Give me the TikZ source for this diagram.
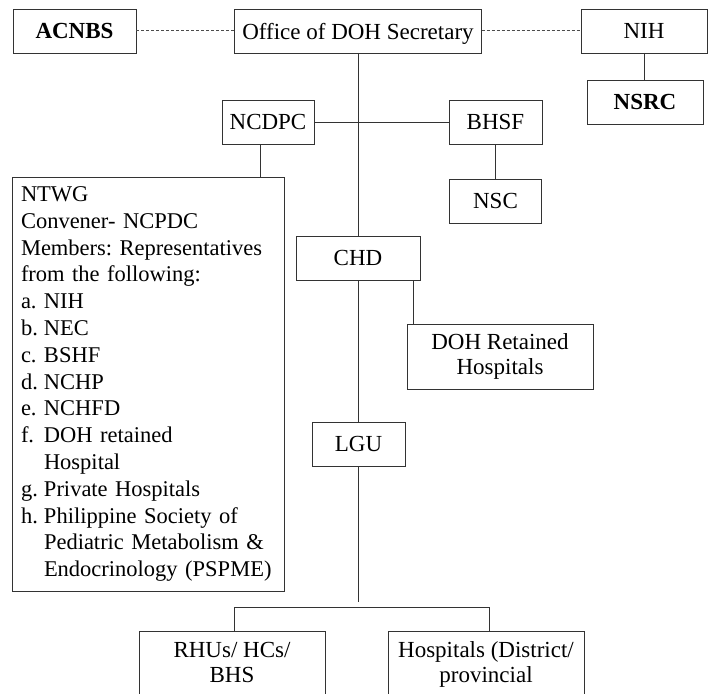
\documentclass[tikz,border=0pt]{standalone}
\usepackage{fontspec}
\setmainfont{Liberation Serif}
\frenchspacing
\newcommand\fsz{\fontsize{23}{25}\selectfont}
\newcommand\lbl[1]{\makebox[23pt][l]{#1}}
\begin{document}
\begin{tikzpicture}[x=1pt,y=-1pt,
  box/.style={draw=black!80, line width=0.9pt, inner sep=0pt, outer sep=0pt,
    align=center, font=\fsz},
  single/.style={text depth=0pt},
  link/.style={draw=black!80, line width=0.9pt},
  dotlink/.style={draw=black!70, line width=1pt, dash pattern=on 3pt off 2pt}]
\useasboundingbox (0,0) rectangle (711,693);
\clip (0,0) rectangle (711,693);
% top row
\node[box, single, minimum width=123pt, minimum height=44pt] (acnbs) at (74.5,31) {\textbf{ACNBS}};
\node[box, single, minimum width=247pt, minimum height=44pt] (office) at (358,31) {Office of DOH Secretary};
\node[box, single, minimum width=126pt, minimum height=44pt] (nih) at (644,31) {NIH};
\node[box, single, minimum width=116pt, minimum height=44pt] (nsrc) at (645,102) {\textbf{NSRC}};
% second level
\node[box, single, minimum width=92pt, minimum height=44pt] (ncdpc) at (268,122) {NCDPC};
\node[box, single, minimum width=93pt, minimum height=44pt] (bhsf) at (495.5,122) {BHSF};
\node[box, single, minimum width=92pt, minimum height=44pt] (nsc) at (495.5,201) {NSC};
% NTWG
\node[box, anchor=north west, minimum width=270pt, minimum height=414pt,
      text width=254pt, align=left, inner xsep=9pt,
      font=\fontsize{22.5}{26.8}\selectfont] (ntwg) at (12,177) {%
NTWG\\
Convener- NCPDC\\
Members: Representatives\\
from the following:\\
\lbl{a.}NIH\\
\lbl{b.}NEC\\
\lbl{c.}BSHF\\
\lbl{d.}NCHP\\
\lbl{e.}NCHFD\\
\lbl{f.}DOH retained\\
\lbl{}Hospital\\
\lbl{g.}Private Hospitals\\
\lbl{h.}Philippine Society of\\
\lbl{}Pediatric Metabolism \&\\
\lbl{}Endocrinology (PSPME)};
% middle column
\node[box, single, minimum width=124pt, minimum height=44pt] (chd) at (358,258) {CHD};
\node[box, minimum width=186pt, minimum height=65pt] (doh) at (500,356.5) {DOH Retained\\Hospitals};
\node[box, single, minimum width=93pt, minimum height=44pt] (lgu) at (358.5,444) {LGU};
% bottom (boxes run past the lower edge of the picture)
\node[box, anchor=north, minimum width=186pt, minimum height=87pt] (rhu) at (232,631) {RHUs/ HCs/\\BHS\\ \mbox{}};
\node[box, anchor=north, minimum width=196pt, minimum height=87pt] (hosp) at (486,631) {Hospitals (District/\\provincial\\ \mbox{}};
\coordinate (lguend) at (358,602);
% connectors
\draw[dotlink] (acnbs.east) -- (office.west);
\draw[dotlink] (office.east) -- (nih.west);
\draw[link] (nih.south) -- (nih.south |- nsrc.north);
\draw[link] (office.south) -- (chd.north);
\draw[link] (ncdpc.east) -- (bhsf.west);
\draw[link] ([xshift=-8pt]ncdpc.south) -- ([xshift=-8pt]ncdpc.south |- ntwg.north);
\draw[link] (bhsf.south) -- (nsc.north);
\draw[link] ([xshift=55pt]chd.south) -- ([xshift=55pt]chd.south |- doh.north);
\draw[link] (chd.south) -- (chd.south |- lgu.north);
\draw[link] (lgu.south -| chd.south) -- (lguend);
\draw[link] ([xshift=2pt]rhu.north) -- ++(0,-24) -| ([xshift=3pt]hosp.north);
\end{tikzpicture}
\end{document}
